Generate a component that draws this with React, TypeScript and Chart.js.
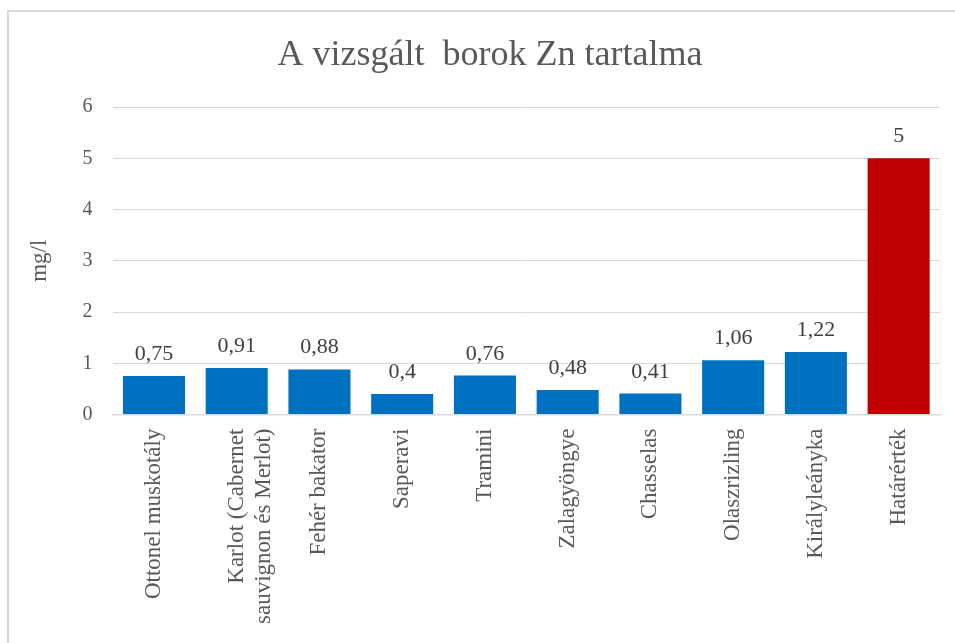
import React, { useEffect, useRef } from "react";
import { Chart, registerables } from "chart.js";

Chart.register(...registerables);

const TITLE = "A vizsgált  borok Zn tartalma";
const Y_TITLE = "mg/l";
const categories: (string | string[])[] = [
  "Ottonel muskotály",
  ["Karlot (Cabernet", "sauvignon és Merlot)"],
  "Fehér bakator",
  "Saperavi",
  "Tramini",
  "Zalagyöngye",
  "Chasselas",
  "Olaszrizling",
  "Királyleányka",
  "Határérték",
];
const values = [0.75, 0.91, 0.88, 0.4, 0.76, 0.48, 0.41, 1.06, 1.22, 5];
const barColors = [
  "#0070C0", "#0070C0", "#0070C0", "#0070C0", "#0070C0",
  "#0070C0", "#0070C0", "#0070C0", "#0070C0", "#C00000",
];
const Y_MIN = 0;
const Y_MAX = 6;
const Y_STEP = 1;

const FONT = "'Liberation Serif', 'Times New Roman', serif";
const TEXT = "#595959";

const dataLabelPlugin = {
  id: "dataLabels",
  afterDatasetsDraw(chart: any) {
    const ctx = chart.ctx;
    const meta = chart.getDatasetMeta(0);
    ctx.save();
    ctx.font = `22px ${FONT}`;
    ctx.fillStyle = "#404040";
    ctx.textAlign = "center";
    ctx.textBaseline = "alphabetic";
    meta.data.forEach((bar: any, i: number) => {
      const v = chart.data.datasets[0].data[i] as number;
      ctx.fillText(String(v).replace(".", ","), bar.x, bar.y - 16);
    });
    ctx.restore();
  },
};

const titlePlugin = {
  id: "customTitle",
  afterDraw(chart: any) {
    const ctx = chart.ctx;
    ctx.save();
    ctx.font = `36px ${FONT}`;
    ctx.fillStyle = TEXT;
    ctx.textAlign = "center";
    ctx.textBaseline = "middle";
    ctx.fillText(TITLE, 490, 56);
    ctx.restore();
  },
};

export default function App() {
  const ref = useRef<HTMLCanvasElement | null>(null);
  useEffect(() => {
    if (!ref.current) return;
    const chart = new Chart(ref.current, {
      type: "bar",
      data: {
        labels: categories as any,
        datasets: [
          {
            data: values,
            backgroundColor: barColors,
            borderWidth: 0,
            barPercentage: 0.75,
            categoryPercentage: 1,
          },
        ],
      },
      options: {
        animation: false,
        responsive: false,
        maintainAspectRatio: false,
        layout: { padding: { left: 20, right: 15, top: 107, bottom: 5 } },
        plugins: {
          legend: { display: false },
          tooltip: { enabled: false },
          title: { display: false },
        },
        scales: {
          x: {
            grid: { display: false, drawTicks: false },
            border: { display: true, color: "#d9d9d9", width: 1.5 },
            ticks: {
              color: TEXT,
              font: { family: FONT, size: 23 },
              minRotation: 90,
              maxRotation: 90,
              padding: 14,
              autoSkip: false,
            },
          },
          y: {
            min: Y_MIN,
            max: Y_MAX,
            grid: { color: "#d9d9d9", lineWidth: 1, drawTicks: false },
            border: { display: false },
            ticks: {
              stepSize: Y_STEP,
              color: TEXT,
              font: { family: FONT, size: 20 },
              padding: 20,
            },
            title: {
              display: true,
              text: Y_TITLE,
              color: TEXT,
              font: { family: FONT, size: 23 },
              padding: { top: 6, bottom: 9 },
            },
          },
        },
      },
      plugins: [dataLabelPlugin, titlePlugin],
    });
    return () => chart.destroy();
  }, []);

  return (
    <div
      style={{
        position: "fixed",
        left: 0,
        top: 0,
        width: 955,
        height: 643,
        overflow: "hidden",
        background: "#fff",
      }}
    >
      <canvas ref={ref} width={955} height={643} style={{ display: "block" }} />
      <div
        style={{
          position: "absolute",
          left: 7,
          top: 10,
          width: 1000,
          height: 700,
          border: "2px solid #d9d9d9",
          pointerEvents: "none",
        }}
      />
    </div>
  );
}
